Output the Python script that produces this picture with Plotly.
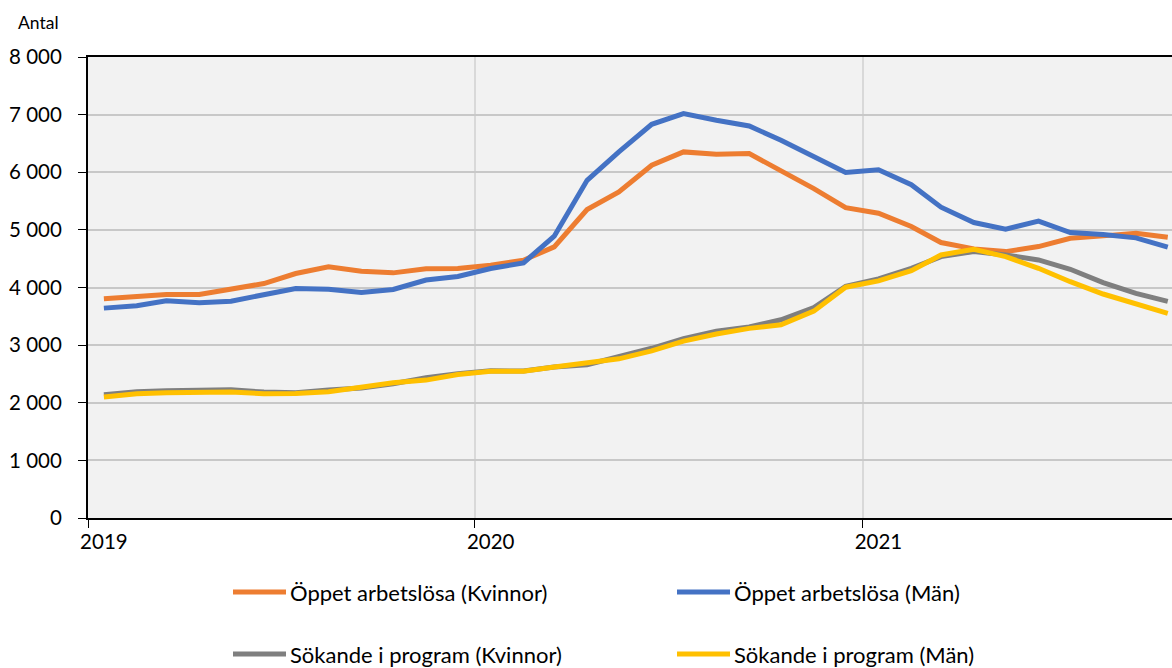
import pandas as pd
import plotly.graph_objects as go

# monthly values, Jan 2019 - Oct 2021 (plotted mid-month)
months = pd.date_range("2019-01-01", periods=34, freq="MS") + pd.Timedelta(days=15)

oppet_kvinnor = [3803, 3850, 3879, 3879, 3965, 4069, 4243, 4358, 4283, 4254, 4327, 4329,
                 4387, 4474, 4705, 5353, 5659, 6121, 6353, 6312, 6324, 6023, 5717, 5385,
                 5290, 5058, 4780, 4670, 4623, 4710, 4855, 4896, 4942, 4872]
oppet_man = [3642, 3682, 3769, 3734, 3763, 3884, 3983, 3971, 3913, 3965, 4130, 4190,
             4329, 4428, 4890, 5861, 6353, 6832, 7017, 6902, 6803, 6555, 6277, 5995,
             6043, 5783, 5394, 5128, 5012, 5151, 4954, 4919, 4861, 4699]
program_kvinnor = [2139, 2191, 2208, 2214, 2225, 2185, 2173, 2220, 2254, 2329, 2434, 2505,
                   2555, 2550, 2620, 2660, 2790, 2945, 3114, 3240, 3314, 3440, 3650, 4020,
                   4150, 4333, 4536, 4623, 4565, 4478, 4316, 4084, 3899, 3759]
program_man = [2098, 2156, 2173, 2173, 2185, 2156, 2162, 2191, 2260, 2347, 2393, 2490,
               2547, 2547, 2622, 2692, 2762, 2900, 3069, 3194, 3291, 3354, 3590, 4005,
               4115, 4293, 4565, 4664, 4536, 4333, 4101, 3887, 3713, 3551]

series = [
    ("Öppet arbetslösa (Kvinnor)", oppet_kvinnor, "#ED7D31"),
    ("Öppet arbetslösa (Män)", oppet_man, "#4472C4"),
    ("Sökande i program (Kvinnor)", program_kvinnor, "#7F7F7F"),
    ("Sökande i program (Män)", program_man, "#FFC000"),
]

year_lines = ["2019-01-01", "2020-01-01", "2021-01-01"]
year_labels = ["2019", "2020", "2021"]
year_label_pos = ["2019-01-16", "2020-01-16", "2021-01-16"]

FONT = "Lato"
W, H = 1172, 668
L, R, T, B = 88, 0, 57, 150


def px(x):
    return (x - L) / (W - L - R)


def py(y):
    return (H - B - y) / (H - T - B)


fig = go.Figure()
for name, vals, color in series:
    fig.add_trace(go.Scatter(x=months, y=vals, name=name, mode="lines",
                             line=dict(color=color, width=5), showlegend=False))

# legend laid out as in the original: 2 x 2 grid below the plot
legend_pos = [(233, 592), (677, 592), (233, 654), (677, 654)]
for (name, _, color), (lx, ly) in zip(series, legend_pos):
    fig.add_shape(type="line", xref="paper", yref="paper",
                  x0=px(lx), x1=px(lx + 53), y0=py(ly), y1=py(ly),
                  line=dict(color=color, width=5))
    fig.add_annotation(text=name, xref="paper", yref="paper", x=px(lx + 55), y=py(ly),
                       xanchor="left", yanchor="middle", showarrow=False,
                       font=dict(family=FONT, size=22, color="#000000"))

fig.add_annotation(text="Antal", xref="paper", yref="paper", x=px(38), y=py(22),
                   xanchor="center", yanchor="middle", showarrow=False,
                   font=dict(family=FONT, size=17.5, color="#000000"))

fig.update_layout(
    width=W, height=H,
    margin=dict(l=L, r=R, t=T, b=B),
    paper_bgcolor="white",
    plot_bgcolor="#F2F2F2",
    separators=", ",
    font=dict(family=FONT, size=20.5, color="#000000"),
)
fig.update_xaxes(
    type="date",
    range=["2019-01-01", "2021-10-20"],
    tickmode="array", tickvals=year_label_pos, ticktext=year_labels,
    ticks="", showgrid=False, ticklabelstandoff=4,
    showline=True, linecolor="#000000", linewidth=2, mirror=True,
    minor=dict(tickmode="array", tickvals=year_lines, ticks="outside", ticklen=8,
               tickcolor="#000000", showgrid=True, gridcolor="#D9D9D9", gridwidth=2),
    tickfont=dict(family=FONT, size=20.5),
)
fig.update_yaxes(
    range=[0, 8000], dtick=1000, tickformat=",d",
    ticks="outside", ticklen=8, tickcolor="#000000", ticklabelstandoff=12,
    showgrid=True, gridcolor="#C8C8C8", gridwidth=2,
    showline=True, linecolor="#000000", linewidth=2, zeroline=False,
    tickfont=dict(family=FONT, size=20.5),
)

# drop the default page margin so the figure sits at the window corner
fig.write_html("out.html", config={"displayModeBar": False},
               post_script="document.body.style.margin='0';document.body.style.overflow='hidden';")
